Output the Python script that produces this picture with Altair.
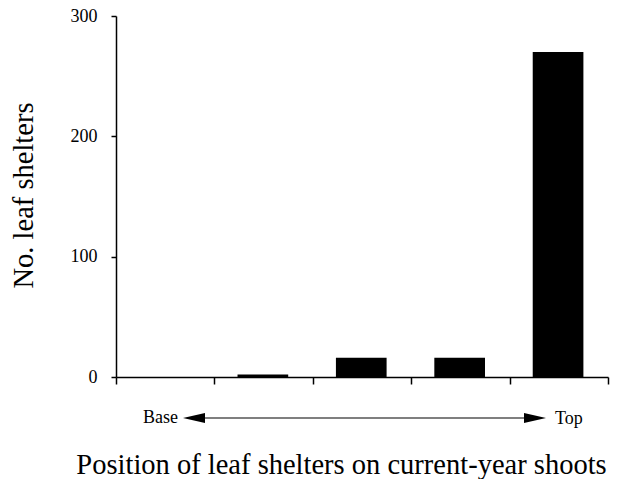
import altair as alt
import pandas as pd

positions = [1, 2, 3, 4, 5]
counts = [0, 2, 16, 16, 270]
y_ticks = [0, 100, 200, 300]
x_ticks = [0, 1, 2, 3, 4, 5]
ends = ["Base", "Top"]

FONT = "Liberation Serif, Times New Roman, Times, serif"
df = pd.DataFrame({"pos": positions, "count": counts})

bars = alt.Chart(df).transform_calculate(
    x0="datum.pos - 1 + 0.235", x1="datum.pos - 1 + 0.75"
).mark_bar(color="black").encode(
    x=alt.X("x0:Q",
            scale=alt.Scale(domain=[0, 5], nice=False, zero=False),
            axis=alt.Axis(values=x_ticks, labels=False, tickSize=7,
                          title="Position of leaf shelters on current-year shoots",
                          titleFontSize=28.5, titleX=225, titleY=96,
                          titleAlign="center", titleBaseline="alphabetic")),
    x2="x1:Q",
    y=alt.Y("count:Q",
            scale=alt.Scale(domain=[0, 300], nice=False),
            axis=alt.Axis(values=y_ticks, tickSize=5, labelPadding=14,
                          title="No. leaf shelters", titleFontSize=28.5,
                          titleX=-93, titleY=179, titleAngle=270,
                          titleAlign="center", titleBaseline="middle")),
    y2=alt.datum(0),
)

line = alt.Chart(pd.DataFrame({"a": [0]})).mark_rule(color="black", strokeWidth=1.2).encode(
    x=alt.value(85), x2=alt.value(420), y=alt.value(402)
)
head_l = alt.Chart(pd.DataFrame({"a": [0]})).mark_point(
    shape="M-1,0 L1,-0.45 L1,0.45 Z", filled=True, color="black", opacity=1, size=484
).encode(x=alt.value(78), y=alt.value(402))
head_r = alt.Chart(pd.DataFrame({"a": [0]})).mark_point(
    shape="M1,0 L-1,-0.45 L-1,0.45 Z", filled=True, color="black", opacity=1, size=484
).encode(x=alt.value(419), y=alt.value(402))

txt_base = alt.Chart(pd.DataFrame({"label": [ends[0]]})).mark_text(
    font=FONT, fontSize=18, align="right", baseline="middle", color="black"
).encode(x=alt.value(62), y=alt.value(402), text="label:N")
txt_top = alt.Chart(pd.DataFrame({"label": [ends[1]]})).mark_text(
    font=FONT, fontSize=18, align="left", baseline="middle", color="black"
).encode(x=alt.value(439), y=alt.value(403), text="label:N")

chart = alt.layer(bars, line, head_l, head_r, txt_base, txt_top).properties(
    width=492, height=361,
    autosize=alt.AutoSizeParams(type="none"),
    padding={"left": 108, "top": 8, "right": 2, "bottom": 102},
).configure_view(stroke=None).configure_axis(
    grid=False, domainColor="black", domainWidth=1.5, tickColor="black", tickWidth=1.5,
    labelFont=FONT, labelFontSize=18, labelColor="black",
    titleFont=FONT, titleColor="black", titleFontWeight="normal",
)

chart.save("out.html", embed_options={"renderer": "svg", "actions": False})
